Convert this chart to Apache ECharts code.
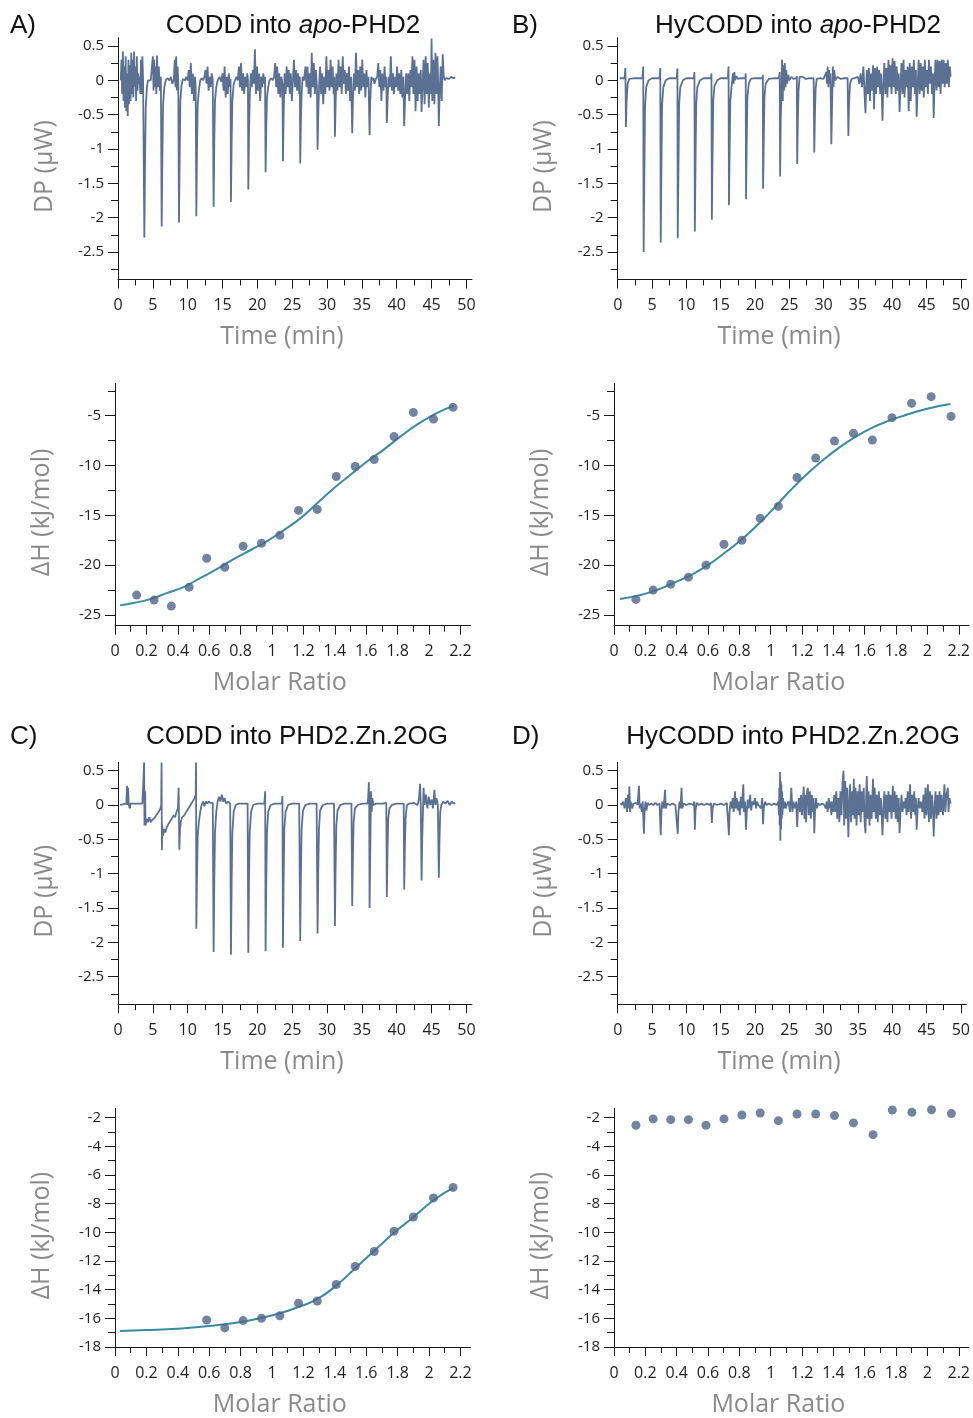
<!DOCTYPE html>
<html><head><meta charset="utf-8">
<script src="https://cdn.jsdelivr.net/npm/echarts/dist/echarts.min.js"></script>
<style>html,body{margin:0;padding:0;background:#fff}#c{width:973px;height:1418px}</style>
</head><body><div id="c"></div>
<script>
// ---------- tick values ----------
const timeTicks = [0,5,10,15,20,25,30,35,40,45,50];
const timeMinor = [2.5,7.5,12.5,17.5,22.5,27.5,32.5,37.5,42.5,47.5];
const dpTicks = [-2.5,-2,-1.5,-1,-0.5,0,0.5];
const dpMinor = [-2.75,-2.25,-1.75,-1.25,-0.75,-0.25,0.25];
const ratioTicks = [0,0.2,0.4,0.6,0.8,1,1.2,1.4,1.6,1.8,2,2.2];
const ratioMinor = [0.1,0.3,0.5,0.7,0.9,1.1,1.3,1.5,1.7,1.9,2.1];
const dhTicksTop = [-25,-20,-15,-10,-5];
const dhMinorTop = [-22.5,-17.5,-12.5,-7.5,-2.5];
const dhTicksBot = [-18,-16,-14,-12,-10,-8,-6,-4,-2];
const dhMinorBot = [-17,-15,-13,-11,-9,-7,-5,-3];

// ---------- panel titles ----------
const panelLetters = ['A)','B)','C)','D)'];
const panelTitles = [
  ['CODD into ','apo','-PHD2'],
  ['HyCODD into ','apo','-PHD2'],
  ['CODD into PHD2.Zn.2OG','',''],
  ['HyCODD into PHD2.Zn.2OG','','']
];

// ---------- raw thermograms [time (min), DP (µW)] ----------
const dpA = [[0.4,0.0],[0.5,0.3],[0.6,-0.2],[0.7,0.42],[0.8,-0.3],[0.9,0.2],[1.0,-0.4],[1.1,0.35],[1.2,-0.45],[1.3,0.1],[1.4,-0.52],[1.5,0.3],[1.6,-0.35],[1.7,0.22],[1.8,-0.3],[1.9,0.4],[2.0,-0.2],[2.1,0.3],[2.2,-0.25],[2.3,0.42],[2.4,-0.1],[2.5,0.2],[2.6,-0.3],[2.7,0.35],[2.8,-0.15],[2.9,0.1],[3.0,-0.05],[3.1,0.05],[3.2,-0.2],[3.3,0.3],[3.4,-0.2],[3.5,0.35],[3.6,0.0],[3.7,0.02],
[3.78,-2.29],[3.88,-1.2],[3.98,-0.4],[4.15,-0.1],[4.3,0.0],[4.5,0.02],[4.7,0.0],[4.9,0.02],[5.0,0.35],[5.1,-0.15],[5.2,0.3],[5.3,-0.1],[5.4,0.2],[5.5,-0.2],[5.6,0.36],[5.7,-0.1],[5.85,0.2],[6.0,-0.15],[6.15,0.05],
[6.27,-2.13],[6.37,-1.1],[6.47,-0.35],[6.65,-0.1],[6.85,0.0],[7.1,0.03],[7.4,0.0],[7.6,0.05],[7.8,-0.05],[8.0,0.0],[8.15,0.3],[8.25,-0.1],[8.35,0.35],[8.45,-0.15],[8.55,0.2],[8.65,0.0],
[8.75,-2.07],[8.85,-1.1],[8.95,-0.3],[9.1,-0.08],[9.3,0.02],[9.6,0.0],[9.8,0.05],[10.0,0.0],[10.15,0.15],[10.3,-0.1],[10.45,0.25],[10.6,-0.2],[10.75,0.1],[10.9,-0.3],[11.05,0.05],[11.15,-0.1],
[11.24,-1.98],[11.34,-1.0],[11.44,-0.35],[11.6,-0.15],[11.8,0.0],[12.0,0.03],[12.2,0.0],[12.4,0.05],[12.55,0.15],[12.7,-0.05],[12.85,0.2],[13.0,-0.15],[13.15,0.05],[13.3,-0.1],[13.45,0.1],[13.6,0.0],
[13.72,-1.84],[13.82,-0.9],[13.92,-0.3],[14.1,-0.1],[14.3,0.0],[14.6,0.05],[14.8,-0.02],[15.0,0.1],[15.15,-0.15],[15.3,0.2],[15.45,-0.25],[15.6,0.05],[15.75,-0.2],[15.9,0.1],[16.05,-0.1],[16.15,0.02],
[16.21,-1.77],[16.31,-0.9],[16.41,-0.3],[16.6,-0.05],[16.8,0.0],[17.0,0.05],[17.2,0.0],[17.35,0.2],[17.5,-0.1],[17.65,0.25],[17.8,-0.15],[17.95,0.1],[18.1,-0.2],[18.25,0.05],[18.4,-0.1],[18.55,0.1],[18.65,0.0],
[18.70,-1.59],[18.8,-0.8],[18.9,-0.25],[19.05,0.1],[19.2,-0.1],[19.35,0.15],[19.5,-0.05],[19.65,0.45],[19.8,-0.2],[19.95,0.2],[20.1,-0.15],[20.25,0.1],[20.4,-0.3],[20.55,0.05],[20.7,-0.1],[20.85,0.1],[21.0,-0.05],[21.1,0.05],
[21.18,-1.34],[21.28,-0.7],[21.38,-0.25],[21.55,-0.1],[21.75,0.0],[22.0,0.03],[22.2,0.0],[22.4,0.05],[22.55,0.25],[22.7,-0.1],[22.85,0.2],[23.0,-0.2],[23.15,0.1],[23.3,-0.25],[23.45,0.05],[23.6,-0.05],
[23.67,-1.18],[23.77,-0.5],[23.9,0.1],[24.05,-0.2],[24.2,0.2],[24.35,-0.1],[24.5,0.15],[24.65,-0.2],[24.8,0.1],[24.95,-0.3],[25.1,0.0],[25.25,0.3],[25.4,-0.1],[25.55,0.15],[25.7,-0.15],[25.85,0.1],[26.0,-0.2],[26.1,0.05],
[26.15,-1.21],[26.25,-0.6],[26.35,-0.2],[26.5,0.05],[26.7,0.0],[26.9,0.2],[27.05,-0.1],[27.2,0.2],[27.35,-0.2],[27.5,0.1],[27.65,-0.25],[27.8,0.4],[27.95,-0.1],[28.1,0.25],[28.25,-0.2],[28.4,0.15],[28.55,-0.1],
[28.64,-1.01],[28.74,-0.5],[28.85,-0.1],[29.0,0.2],[29.15,-0.2],[29.3,0.1],[29.45,-0.35],[29.6,0.05],[29.75,-0.2],[29.9,0.35],[30.05,-0.1],[30.2,0.15],[30.35,-0.15],[30.5,0.3],[30.65,-0.1],[30.8,0.2],[30.95,-0.2],[31.05,0.05],
[31.13,-0.82],[31.23,-0.35],[31.35,0.1],[31.5,-0.15],[31.65,0.3],[31.8,-0.1],[31.95,0.2],[32.1,-0.2],[32.25,0.35],[32.4,-0.05],[32.55,0.15],[32.7,-0.2],[32.85,0.1],[33.0,-0.15],[33.15,0.2],[33.3,-0.3],[33.45,0.05],
[33.61,-0.77],[33.71,-0.3],[33.85,0.1],[34.0,-0.15],[34.15,0.4],[34.3,-0.1],[34.45,0.15],[34.6,-0.2],[34.75,0.2],[34.9,-0.15],[35.05,0.3],[35.2,-0.1],[35.35,0.1],[35.5,-0.25],[35.65,0.15],[35.8,-0.1],[35.95,0.05],
[36.10,-0.80],[36.2,-0.3],[36.35,0.05],[36.5,0.0],[36.65,0.03],[36.8,-0.05],[37.0,0.02],[37.2,0.05],[37.35,0.25],[37.5,-0.1],[37.65,0.15],[37.8,-0.3],[37.95,0.1],[38.1,-0.15],[38.25,0.2],[38.4,-0.1],[38.5,0.05],
[38.58,-0.62],[38.7,-0.25],[38.85,0.05],[39.0,-0.1],[39.15,0.35],[39.3,-0.15],[39.45,0.1],[39.6,-0.2],[39.75,0.05],[39.9,-0.1],[40.05,0.2],[40.2,-0.15],[40.35,0.1],[40.5,-0.2],[40.65,0.15],[40.8,-0.25],[40.95,0.05],
[41.07,-0.67],[41.2,-0.25],[41.35,0.1],[41.5,-0.2],[41.65,0.1],[41.8,-0.3],[41.95,0.15],[42.1,-0.1],[42.25,0.35],[42.4,-0.2],[42.55,0.3],[42.7,-0.45],[42.85,0.2],[43.0,-0.3],[43.15,0.1],[43.3,-0.2],[43.45,0.15],
[43.56,-0.46],[43.7,-0.1],[43.85,0.3],[44.0,-0.35],[44.15,0.35],[44.3,-0.2],[44.45,0.25],[44.6,-0.4],[44.75,0.1],[44.9,-0.2],[45.0,0.61],[45.1,-0.3],[45.25,0.3],[45.4,-0.35],[45.55,0.4],[45.7,-0.2],[45.85,0.35],[45.95,-0.1],
[46.04,-0.67],[46.15,-0.2],[46.3,0.2],[46.45,-0.3],[46.6,0.38],[46.75,0.05],[46.9,0.0],[47.05,0.03],[47.2,0.05],[47.5,0.02],[47.8,0.05],[48.1,0.03],[48.4,0.04]];

const dpB = [[0.3,0.03],[1.0,0.03],[1.12,0.18],[1.2,-0.68],[1.3,-0.3],[1.45,-0.05],[1.7,0.02],[2.5,0.03],[3.6,0.03],[3.72,0.2],
[3.78,-2.50],[3.88,-1.4],[3.98,-0.4],[4.15,-0.1],[4.5,0.0],[5.0,0.03],[6.1,0.03],[6.2,0.18],
[6.27,-2.36],[6.37,-1.3],[6.47,-0.35],[6.65,-0.1],[7.0,0.0],[7.5,0.03],[8.6,0.03],[8.7,0.17],
[8.75,-2.30],[8.85,-1.3],[8.95,-0.35],[9.12,-0.1],[9.5,0.0],[10,0.03],[11.1,0.03],[11.18,0.12],
[11.24,-2.20],[11.34,-1.2],[11.44,-0.35],[11.6,-0.1],[12,0.0],[12.5,0.03],[13.6,0.03],[13.66,0.1],
[13.72,-2.03],[13.82,-1.1],[13.92,-0.3],[14.1,-0.08],[14.5,0.0],[15,0.03],[16.05,0.03],[16.15,0.2],
[16.21,-1.82],[16.31,-1.0],[16.41,-0.3],[16.6,-0.08],[16.8,0.1],[16.9,-0.05],[17.0,0.12],[17.1,0.0],[17.3,0.06],[17.5,0.02],[18.0,0.03],[18.6,0.03],[18.65,0.1],
[18.70,-1.73],[18.8,-0.9],[18.9,-0.25],[19.1,-0.05],[19.4,0.02],[20,0.03],[21.1,0.03],[21.15,0.08],
[21.18,-1.58],[21.28,-0.9],[21.38,-0.25],[21.55,-0.05],[22,0.02],[23.0,0.03],[23.5,0.03],[23.6,0.12],
[23.67,-1.40],[23.75,-0.6],[23.85,-0.2],[23.95,0.3],[24.05,-0.3],[24.15,0.22],[24.25,-0.15],[24.35,0.25],[24.45,-0.1],[24.55,0.15],[24.7,-0.05],[24.85,0.08],[25.0,0.0],[25.3,0.05],[25.6,0.02],[26.0,0.03],[26.1,0.06],
[26.15,-1.22],[26.25,-0.6],[26.35,-0.15],[26.5,0.05],[26.7,0.03],[27,0.05],[27.4,0.02],[28,0.03],[28.55,0.03],
[28.64,-1.05],[28.74,-0.5],[28.84,-0.12],[29.0,0.02],[29.5,0.03],[30.0,0.02],[30.4,0.12],[30.5,-0.05],[30.6,0.2],[30.7,-0.1],[30.8,0.15],[30.9,-0.05],[31.0,0.1],
[31.13,-0.93],[31.23,-0.4],[31.35,0.2],[31.45,-0.1],[31.55,0.15],[31.7,0.0],[32.0,0.05],[32.5,0.02],[33.0,0.03],[33.5,0.03],
[33.61,-0.81],[33.71,-0.35],[33.85,-0.05],[34.1,0.02],[34.5,0.03],[35.0,0.05],[35.2,-0.05],[35.4,0.1],[35.6,-0.1],[35.8,0.2],[35.95,-0.15],
[36.10,-0.48],[36.2,-0.1],[36.3,0.15],[36.45,-0.2],[36.6,0.18],[36.75,-0.3],[36.9,0.1],[37.05,-0.15],[37.2,0.22],[37.35,-0.42],[37.5,0.18],[37.65,-0.2],[37.8,0.2],[37.95,-0.1],[38.1,0.15],[38.25,-0.2],[38.4,0.1],
[38.58,-0.59],[38.7,-0.1],[38.85,0.25],[39.0,-0.2],[39.15,0.18],[39.3,-0.25],[39.45,0.3],[39.6,-0.1],[39.75,0.22],[39.9,-0.2],[40.05,0.32],[40.2,-0.1],[40.35,0.28],[40.5,-0.2],[40.65,0.2],[40.8,-0.15],[40.95,0.1],
[41.07,-0.46],[41.2,-0.1],[41.35,0.25],[41.5,-0.2],[41.65,0.3],[41.8,-0.25],[41.95,0.15],[42.1,-0.1],[42.25,0.2],[42.4,-0.45],[42.55,0.25],[42.7,-0.3],[42.85,0.2],[43.0,-0.1],[43.15,0.3],[43.3,-0.2],[43.45,0.15],
[43.56,-0.53],[43.7,-0.1],[43.85,0.3],[44.0,-0.2],[44.15,0.25],[44.3,-0.15],[44.45,0.2],[44.6,-0.25],[44.75,0.3],[44.9,-0.1],[45.05,0.15],[45.2,-0.2],[45.35,0.3],[45.5,-0.05],[45.65,0.2],[45.8,-0.2],[45.95,0.1],
[46.04,-0.55],[46.15,-0.1],[46.3,0.3],[46.45,-0.15],[46.6,0.3],[46.75,-0.1],[46.9,0.28],[47.05,-0.2],[47.2,0.3],[47.35,-0.05],[47.5,0.3],[47.65,-0.1],[47.8,0.25],[47.95,-0.05],[48.1,0.3],[48.25,-0.1],[48.4,0.2],[48.5,0.05]];

const dpC = [[0.3,0.0],[1.2,0.02],[1.3,0.28],[1.35,0.0],[1.45,0.25],[1.55,0.0],[1.7,-0.05],[1.8,0.02],[2.5,0.02],[3.5,0.02],[3.7,0.03],[3.75,0.62],[3.8,-0.3],[3.9,0.2],[3.95,-0.3],[4.1,-0.2],[4.3,-0.25],[4.5,-0.18],[4.7,-0.25],[4.9,-0.22],[5.1,-0.2],[5.3,-0.18],[5.5,-0.2],[5.7,-0.12],[5.9,-0.1],[6.1,-0.05],[6.2,0.0],[6.25,0.62],
[6.3,-0.66],[6.35,-0.3],[6.45,-0.45],[6.6,-0.35],[6.8,-0.4],[7.0,-0.32],[7.2,-0.3],[7.4,-0.25],[7.6,-0.22],[7.8,-0.2],[8.0,-0.15],[8.2,-0.18],[8.4,-0.1],[8.6,-0.05],[8.7,0.25],
[8.8,-0.65],[8.9,-0.35],[9.0,-0.25],[9.2,-0.18],[9.5,-0.15],[9.8,-0.1],[10.1,-0.05],[10.4,0.0],[10.7,0.05],[11.0,0.1],[11.15,0.15],[11.2,0.62],
[11.24,-1.80],[11.34,-1.0],[11.44,-0.45],[11.6,-0.25],[11.8,-0.1],[12.0,0.0],[12.2,0.05],[12.4,-0.02],[12.6,0.05],[12.8,0.02],[13.0,0.05],[13.3,0.03],[13.6,0.03],
[13.72,-2.14],[13.82,-1.1],[13.92,-0.4],[14.1,-0.1],[14.3,0.05],[14.5,0.12],[14.7,0.05],[14.9,0.15],[15.1,0.05],[15.3,0.1],[15.5,0.02],[15.8,0.05],[16.1,0.02],
[16.21,-2.18],[16.31,-1.1],[16.41,-0.4],[16.6,-0.1],[16.9,0.0],[17.3,0.02],[18.0,0.02],[18.6,0.02],
[18.70,-2.15],[18.8,-1.1],[18.9,-0.4],[19.1,-0.1],[19.4,0.0],[20.0,0.02],[21.0,0.02],[21.12,0.2],
[21.18,-2.13],[21.28,-1.1],[21.38,-0.4],[21.55,-0.1],[21.9,0.0],[22.5,0.02],[23.5,0.02],[23.6,0.13],
[23.67,-2.08],[23.77,-1.05],[23.87,-0.35],[24.05,-0.1],[24.4,0.0],[25.0,0.02],[26.0,0.02],
[26.15,-1.98],[26.25,-1.0],[26.35,-0.35],[26.55,-0.08],[26.9,0.0],[27.5,0.02],[28.5,0.02],
[28.64,-1.87],[28.74,-0.95],[28.84,-0.35],[29.0,-0.08],[29.4,0.0],[30.0,0.02],[31.0,0.02],
[31.13,-1.76],[31.23,-0.9],[31.33,-0.3],[31.5,-0.08],[31.9,0.0],[32.5,0.02],[33.5,0.02],
[33.61,-1.47],[33.71,-0.75],[33.81,-0.25],[34.0,-0.05],[34.4,0.0],[35.0,0.02],[35.8,0.02],[35.9,0.1],[36.0,0.33],[36.05,0.0],
[36.10,-1.50],[36.2,-0.7],[36.3,0.2],[36.4,-0.1],[36.5,0.1],[36.65,0.0],[37.0,0.02],[38.0,0.02],[38.5,0.03],
[38.58,-1.34],[38.68,-0.65],[38.78,-0.2],[38.95,-0.05],[39.3,0.0],[40.0,0.02],[41.0,0.02],
[41.07,-1.23],[41.17,-0.6],[41.27,-0.2],[41.45,0.0],[41.8,0.02],[42.5,0.03],[43.0,0.0],[43.2,0.1],[43.35,0.31],[43.45,0.0],
[43.56,-1.10],[43.66,-0.5],[43.76,-0.1],[43.85,0.25],[44.0,0.0],[44.2,0.15],[44.4,-0.05],[44.6,0.12],[44.8,0.0],[45.0,0.08],[45.2,-0.05],[45.4,0.22],[45.55,0.0],[45.7,0.1],[45.9,0.0],
[46.04,-1.06],[46.14,-0.5],[46.24,-0.1],[46.4,0.0],[46.7,0.05],[47.0,0.02],[47.3,0.06],[47.6,0.0],[47.9,0.05],[48.2,0.02],[48.4,0.03]];

const dpD = [[0.4,0.03],[0.6,0.0],[0.8,0.05],[1.0,-0.05],[1.2,0.1],[1.35,-0.1],[1.5,0.15],[1.6,-0.05],[1.7,0.27],[1.8,-0.1],[1.9,0.05],[2.1,-0.05],[2.3,0.02],[2.5,0.0],[2.7,0.03],[2.9,0.0],[3.1,0.28],[3.2,-0.05],[3.35,0.02],[3.5,-0.1],[3.65,0.05],
[3.82,-0.42],[3.92,-0.1],[4.05,0.05],[4.2,-0.08],[4.35,0.03],[4.6,0.0],[4.9,0.02],[5.2,0.0],[5.5,0.03],[5.8,0.0],[6.1,0.02],
[6.27,-0.44],[6.37,-0.1],[6.5,0.05],[6.7,-0.05],[6.9,0.22],[7.0,-0.05],[7.2,0.02],[7.6,0.0],[8.0,0.02],[8.4,0.0],[8.6,0.02],
[8.75,-0.42],[8.85,-0.1],[9.0,0.05],[9.15,-0.05],[9.3,0.25],[9.4,-0.05],[9.6,0.02],[10.0,0.0],[10.5,0.02],[11.0,0.0],[11.15,0.05],
[11.24,-0.36],[11.34,-0.08],[11.5,0.03],[11.8,0.0],[12.2,0.02],[12.6,0.0],[13.0,0.02],[13.4,0.0],[13.6,0.03],
[13.72,-0.26],[13.82,-0.05],[14.0,0.02],[14.5,0.0],[15.0,0.02],[15.5,0.0],[15.9,0.03],
[16.21,-0.44],[16.3,-0.1],[16.45,0.05],[16.6,-0.05],[16.75,0.1],[16.9,-0.1],[17.1,0.2],[17.2,-0.05],[17.35,0.1],[17.5,-0.08],[17.65,0.05],[17.8,-0.15],[17.95,0.12],[18.1,-0.05],[18.3,0.3],[18.4,-0.1],[18.55,0.05],
[18.70,-0.36],[18.8,-0.1],[18.95,0.08],[19.1,-0.05],[19.3,0.15],[19.45,-0.08],[19.6,0.05],[19.8,0.0],[20.0,0.1],[20.15,-0.05],[20.3,0.05],[20.5,0.0],[20.7,0.02],[20.9,-0.05],[21.05,0.1],
[21.18,-0.28],[21.28,-0.05],[21.45,0.05],[21.7,0.0],[22.0,0.02],[22.4,0.0],[22.8,0.02],[23.2,0.0],[23.4,0.05],[23.5,-0.15],[23.55,0.25],[23.6,-0.3],[23.65,0.48],
[23.7,-0.52],[23.75,0.35],[23.8,-0.35],[23.85,0.3],[23.9,-0.2],[23.95,0.2],[24.0,-0.15],[24.1,0.1],[24.2,-0.05],[24.35,0.05],[24.5,-0.05],[24.7,0.02],[24.9,0.05],[25.1,-0.1],[25.3,0.25],[25.45,-0.1],[25.6,0.05],[25.8,-0.05],[26.0,0.05],
[26.15,-0.32],[26.25,-0.05],[26.4,0.1],[26.55,-0.1],[26.7,0.15],[26.85,-0.15],[27.0,0.1],[27.1,0.27],[27.2,-0.2],[27.3,0.15],[27.45,-0.25],[27.6,0.2],[27.7,0.25],[27.85,-0.15],[28.0,0.2],[28.15,-0.2],[28.3,0.15],[28.45,-0.1],[28.55,0.1],
[28.64,-0.41],[28.75,-0.1],[28.9,0.1],[29.05,-0.05],[29.2,0.02],[29.5,0.0],[29.8,0.02],[30.1,0.0],[30.3,-0.05],[30.45,0.05],[30.6,-0.1],[30.75,0.1],[30.9,-0.05],[31.0,0.05],
[31.13,-0.15],[31.25,0.05],[31.4,-0.1],[31.55,0.15],[31.7,-0.1],[31.85,0.2],[32.0,-0.2],[32.15,0.1],[32.3,-0.25],[32.45,0.2],[32.6,-0.15],[32.75,0.3],[32.9,0.5],[33.0,-0.3],[33.15,0.35],[33.3,-0.2],[33.45,0.25],
[33.61,-0.47],[33.7,-0.1],[33.85,0.3],[34.0,-0.25],[34.15,0.2],[34.3,-0.15],[34.4,0.38],[34.5,-0.2],[34.65,0.25],[34.8,-0.3],[34.95,0.2],[35.1,-0.15],[35.25,0.3],[35.4,-0.25],[35.55,0.2],[35.7,-0.1],[35.85,0.25],[35.95,-0.2],
[36.10,-0.41],[36.2,0.1],[36.3,0.42],[36.4,-0.2],[36.55,0.2],[36.7,-0.3],[36.85,0.15],[37.0,-0.2],[37.2,0.38],[37.3,-0.1],[37.45,0.25],[37.6,-0.2],[37.75,0.15],[37.9,-0.25],[38.05,0.2],[38.2,-0.15],[38.35,0.1],[38.45,-0.1],
[38.58,-0.44],[38.7,-0.1],[38.85,0.2],[39.0,-0.2],[39.15,0.15],[39.3,-0.25],[39.45,0.2],[39.6,-0.1],[39.75,0.15],[39.9,-0.2],[40.1,0.28],[40.2,-0.1],[40.35,0.2],[40.5,-0.2],[40.65,0.15],[40.8,-0.25],[40.95,0.1],
[41.07,-0.41],[41.2,-0.1],[41.35,0.15],[41.5,-0.1],[41.65,0.05],[41.8,-0.05],[41.95,0.1],[42.1,-0.15],[42.25,0.2],[42.4,-0.1],[42.6,0.3],[42.75,-0.2],[42.9,0.15],[43.05,-0.1],[43.2,0.2],[43.35,-0.15],[43.45,0.1],
[43.56,-0.36],[43.7,-0.05],[43.85,0.1],[44.0,-0.05],[44.2,0.05],[44.4,-0.1],[44.55,0.15],[44.7,-0.2],[44.85,0.25],[45.0,-0.15],[45.2,0.3],[45.35,-0.25],[45.5,0.2],[45.65,-0.2],[45.8,0.15],[45.95,-0.1],
[46.04,-0.46],[46.15,-0.1],[46.3,0.2],[46.45,-0.2],[46.6,0.15],[46.75,-0.15],[46.9,0.2],[47.05,-0.1],[47.2,0.15],[47.4,-0.15],[47.6,0.3],[47.75,-0.1],[47.9,0.15],[48.1,0.25],[48.2,-0.1],[48.35,0.1],[48.5,0.02]];

// ---------- integrated heats ----------
const molarA = [0.138,0.249,0.359,0.472,0.584,0.699,0.816,0.933,1.05,1.169,1.288,1.409,1.530,1.651,1.777,1.900,2.028,2.153];
const heatA  = [-23.0,-23.5,-24.1,-22.2,-19.3,-20.2,-18.1,-17.8,-17.0,-14.5,-14.4,-11.1,-10.1,-9.4,-7.1,-4.67,-5.33,-4.16];
const fitAx  = [0.032,0.117,0.223,0.329,0.436,0.542,0.648,0.755,0.861,0.967,1.073,1.18,1.286,1.392,1.498,1.605,1.711,1.817,1.923,2.03,2.115,2.157];
const fitAy  = [-24.03,-23.8,-23.4,-22.8,-22.2,-21.3,-20.4,-19.4,-18.5,-17.6,-16.5,-15.3,-13.8,-12.3,-10.95,-9.6,-8.4,-7.1,-5.9,-4.9,-4.26,-4.0];

const molarB = [0.140,0.250,0.362,0.475,0.587,0.702,0.816,0.933,1.049,1.168,1.287,1.407,1.528,1.649,1.774,1.899,2.024,2.151];
const heatB  = [-23.43,-22.5,-21.9,-21.2,-20.0,-17.9,-17.5,-15.3,-14.1,-11.2,-9.25,-7.54,-6.77,-7.44,-5.2,-3.76,-3.09,-5.07];
const fitBx  = [0.038,0.165,0.271,0.377,0.483,0.589,0.695,0.801,0.907,1.013,1.119,1.225,1.331,1.437,1.543,1.649,1.755,1.861,1.967,2.073,2.147];
const fitBy  = [-23.4,-23.0,-22.5,-21.8,-21.05,-20.1,-18.9,-17.6,-16.1,-14.4,-12.6,-10.95,-9.5,-8.2,-7.1,-6.2,-5.5,-4.93,-4.43,-4.03,-3.83];

const molarC = [0.584,0.699,0.816,0.933,1.05,1.169,1.288,1.409,1.530,1.651,1.777,1.900,2.028,2.153];
const heatC  = [-16.12,-16.67,-16.16,-16.0,-15.82,-14.95,-14.79,-13.64,-12.38,-11.34,-9.92,-8.93,-7.60,-6.87];
const fitCx  = [0.032,0.2,0.4,0.58,0.7,0.82,0.93,1.05,1.17,1.29,1.41,1.53,1.65,1.78,1.90,2.03,2.153];
const fitCy  = [-16.88,-16.82,-16.72,-16.55,-16.42,-16.22,-15.97,-15.65,-15.2,-14.65,-13.7,-12.5,-11.3,-10.0,-8.95,-7.75,-6.9];

const molarD = [0.140,0.250,0.362,0.475,0.587,0.702,0.816,0.933,1.049,1.168,1.287,1.407,1.528,1.653,1.776,1.901,2.026,2.153];
const heatD  = [-2.53,-2.09,-2.14,-2.14,-2.53,-2.09,-1.82,-1.68,-2.21,-1.75,-1.75,-1.86,-2.37,-3.19,-1.47,-1.63,-1.45,-1.72];

// ---------- styling ----------
const UI = '"Open Sans","Noto Sans",sans-serif';
const TF = '"Liberation Sans",Arial,sans-serif';
const AX = '#1a1a1a', LBL = '#1e1e1e', NAME = '#8a8a8a';
const TRACE = '#5a7193', DOT = '#4f6588', FIT = '#3b8aa3';

const zip = (a, b) => a.map((v, i) => [v, b[i]]);

// panel geometry: [left, top, width, height]
const panels = [
  {g:[118,37.7,354,241.8], kind:'dp', data:dpA},
  {g:[617.7,37.7,352,241.8], kind:'dp', data:dpB},
  {g:[115,383.3,355.5,242.4], kind:'dhTop', pts:zip(molarA,heatA), fit:zip(fitAx,fitAy)},
  {g:[614,383.3,356.5,242.4], kind:'dhTop', pts:zip(molarB,heatB), fit:zip(fitBx,fitBy)},
  {g:[118,762.4,354,241.8], kind:'dp', data:dpC},
  {g:[617.7,762.4,352,241.8], kind:'dp', data:dpD},
  {g:[115,1108.3,355.5,241.7], kind:'dhBot', pts:zip(molarC,heatC), fit:zip(fitCx,fitCy)},
  {g:[614,1108.3,356.5,241.7], kind:'dhBot', pts:zip(molarD,heatD), fit:null}
];

const spec = {
  dp:    {x:[0,50.8,timeTicks,timeMinor,'Time (min)'], y:[-2.9,0.62,dpTicks,dpMinor,'DP (µW)']},
  dhTop: {x:[0,2.264,ratioTicks,ratioMinor,'Molar Ratio'], y:[-26.07,-1.75,dhTicksTop,dhMinorTop,'ΔH (kJ/mol)']},
  dhBot: {x:[0,2.264,ratioTicks,ratioMinor,'Molar Ratio'], y:[-18,-1.35,dhTicksBot,dhMinorBot,'ΔH (kJ/mol)']}
};

const grid = [], xAxis = [], yAxis = [], series = [];
const xMinorAxes = [], yMinorAxes = [];
panels.forEach((p, i) => {
  grid.push({left:p.g[0], top:p.g[1], width:p.g[2], height:p.g[3], containLabel:false});
  const s = spec[p.kind];
  xAxis.push({
    type:'value', gridIndex:i, position:'bottom', min:s.x[0], max:s.x[1],
    name:s.x[4], nameLocation:'middle', nameGap:45,
    nameTextStyle:{fontFamily:UI, fontSize:25, color:NAME, padding:[0,26,0,0]},
    axisLine:{show:true, onZero:false, lineStyle:{color:AX, width:1}},
    axisTick:{show:true, inside:false, length:9, customValues:s.x[2], lineStyle:{color:AX, width:1}},
    axisLabel:{show:true, customValues:s.x[2], margin:18, fontFamily:UI, fontSize:16, color:LBL},
    splitLine:{show:false}
  });
  xMinorAxes.push({
    type:'value', gridIndex:i, position:'bottom', min:s.x[0], max:s.x[1],
    axisLine:{show:false, onZero:false},
    axisTick:{show:true, inside:false, length:6, customValues:s.x[3], lineStyle:{color:AX, width:1}},
    axisLabel:{show:false}, splitLine:{show:false}
  });
  yAxis.push({
    type:'value', gridIndex:i, position:'left', min:s.y[0], max:s.y[1],
    name:s.y[4], nameLocation:'middle', nameGap:61, nameRotate:90,
    nameTextStyle:{fontFamily:UI, fontSize:25, color:NAME, padding:[0,16,0,0]},
    axisLine:{show:true, onZero:false, lineStyle:{color:AX, width:1}},
    axisTick:{show:true, inside:false, length:10, customValues:s.y[2], lineStyle:{color:AX, width:1}},
    axisLabel:{show:true, customValues:s.y[2], margin:14, fontFamily:UI, fontSize:15, color:LBL},
    splitLine:{show:false}
  });
  yMinorAxes.push({
    type:'value', gridIndex:i, position:'left', min:s.y[0], max:s.y[1],
    axisLine:{show:false, onZero:false},
    axisTick:{show:true, inside:false, length:7, customValues:s.y[3], lineStyle:{color:AX, width:1}},
    axisLabel:{show:false}, splitLine:{show:false}
  });
  if (p.kind === 'dp') {
    series.push({type:'line', xAxisIndex:i, yAxisIndex:i, data:p.data, symbol:'none', showSymbol:false,
      lineStyle:{width:1.8, color:TRACE}, silent:true, animation:false, clip:true});
  } else {
    if (p.fit) series.push({type:'line', xAxisIndex:i, yAxisIndex:i, data:p.fit, smooth:true, symbol:'none',
      lineStyle:{width:2, color:FIT}, silent:true, animation:false});
    series.push({type:'scatter', xAxisIndex:i, yAxisIndex:i, data:p.pts, symbolSize:9,
      itemStyle:{color:DOT}, silent:true, animation:false, z:3});
  }
});

const titles = [];
const letterPos = [[10,11],[512,11],[10,722],[512,722]];
const titleCenter = [[293,11],[798,11],[297,722],[793,722]];
panelLetters.forEach((t, i) => {
  titles.push({text:t, left:letterPos[i][0], top:letterPos[i][1], padding:0,
    textStyle:{fontFamily:TF, fontSize:26, fontWeight:'normal', color:'#111', lineHeight:30}});
  const pt = panelTitles[i];
  let txt = '{n|' + pt[0] + '}';
  if (pt[1]) txt += '{i|' + pt[1] + '}';
  if (pt[2]) txt += '{n|' + pt[2] + '}';
  titles.push({text:txt, left:titleCenter[i][0], top:titleCenter[i][1], textAlign:'center', padding:0,
    textStyle:{fontWeight:'normal', fontFamily:TF, fontSize:26, rich:{
      n:{fontFamily:TF, fontSize:26, fontWeight:'normal', color:'#111', lineHeight:30},
      i:{fontFamily:TF, fontSize:26, fontWeight:'normal', color:'#111', fontStyle:'italic', lineHeight:30}
    }}});
});

const chart = echarts.init(document.getElementById('c'), null, {renderer:'canvas'});
chart.setOption({
  backgroundColor:'#ffffff',
  animation:false,
  title:titles,
  grid:grid,
  xAxis:xAxis.concat(xMinorAxes),
  yAxis:yAxis.concat(yMinorAxes),
  series:series
});
</script></body></html>
